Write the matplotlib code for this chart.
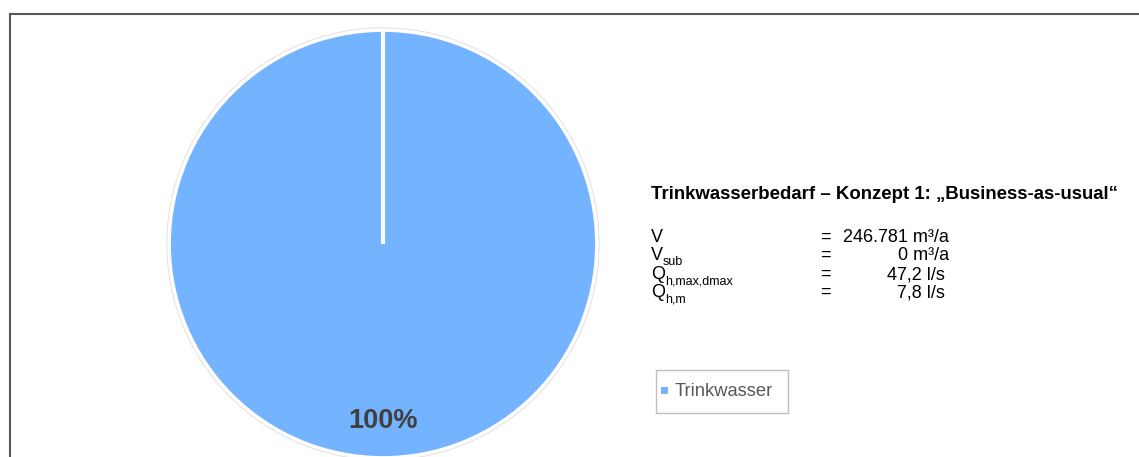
import matplotlib
matplotlib.use("Agg")
import matplotlib.pyplot as plt
from matplotlib.patches import Rectangle, Circle

plt.rcParams['font.family'] = ['Liberation Sans', 'DejaVu Sans']

categories = ["Trinkwasser"]
values = [246781]
pct_labels = ["100%"]
title = "Trinkwasserbedarf – Konzept 1: „Business-as-usual“"
row_main = ["V", "V", "Q", "Q"]
row_sub = ["", "sub", "h,max,dmax", "h,m"]
row_values = ["246.781 m³/a", "0 m³/a", "47,2 l/s", "7,8 l/s"]
row_value_right = [949, 949, 945, 945]

W, H = 1139, 457
fig = plt.figure(figsize=(W / 100, H / 100), dpi=100)

def fx(px):
    return px / W

def fy(py):
    return 1 - py / H

# border frame
fig.patches.append(Rectangle((fx(10), fy(470)), fx(1150) - fx(10), fy(14) - fy(470),
                             transform=fig.transFigure, fill=False,
                             edgecolor='#595959', linewidth=1.5))

# pie axes
cx, cy, r = 383, 244, 216
ax = fig.add_axes([fx(cx - r), fy(cy + r), fx(2 * r), fy(cy - r) - fy(cy + r)])
ax.add_patch(Circle((0, 0), 1.0, facecolor='none', edgecolor='#E3E3E3',
                    linewidth=1.0, clip_on=False))
wedges, _ = ax.pie(values, colors=['#74B3FF'], startangle=90, counterclock=False,
                   radius=0.99, wedgeprops=dict(edgecolor='white', linewidth=2.5))
for w in wedges:
    w.set_clip_on(False)
ax.plot([0, 0], [0, 0.99], color='white', linewidth=3, solid_capstyle='butt')
ax.set_xlim(-1, 1)
ax.set_ylim(-1, 1)
ax.set_aspect('equal')
ax.axis('off')
ax.text(0, -0.82, pct_labels[0], ha='center', va='center', fontsize=19.5,
        fontweight='bold', color='#404040')

# title and rows
fig.text(fx(651), fy(199), title, ha='left', va='baseline', fontsize=13.4,
         fontweight='bold', color='black')
row_base = [242, 260, 279, 297]
fig.canvas.draw()
renderer = fig.canvas.get_renderer()
for main, sub, val, yb, xr in zip(row_main, row_sub, row_values, row_base, row_value_right):
    t = fig.text(fx(651), fy(yb), main, ha='left', va='baseline', fontsize=13, color='black')
    if sub:
        bb = t.get_window_extent(renderer=renderer)
        fig.text(fx(651 + bb.width), fy(yb + 5), sub, ha='left', va='baseline',
                 fontsize=9, color='black')
    fig.text(fx(820), fy(yb), "=", ha='left', va='baseline', fontsize=13, color='black')
    fig.text(fx(xr), fy(yb), val, ha='right', va='baseline', fontsize=13, color='black')

# legend box
fig.patches.append(Rectangle((fx(656), fy(413)), fx(788) - fx(656), fy(370) - fy(413),
                             transform=fig.transFigure, facecolor='white',
                             edgecolor='#BFBFBF', linewidth=1))
fig.patches.append(Rectangle((fx(661), fy(394)), fx(7), fy(387) - fy(394),
                             transform=fig.transFigure, facecolor='#74B3FF',
                             edgecolor='none'))
fig.text(fx(675), fy(391), categories[0], ha='left', va='center', fontsize=13.2,
         color='#595959')

fig.savefig("out.png", dpi=100)
